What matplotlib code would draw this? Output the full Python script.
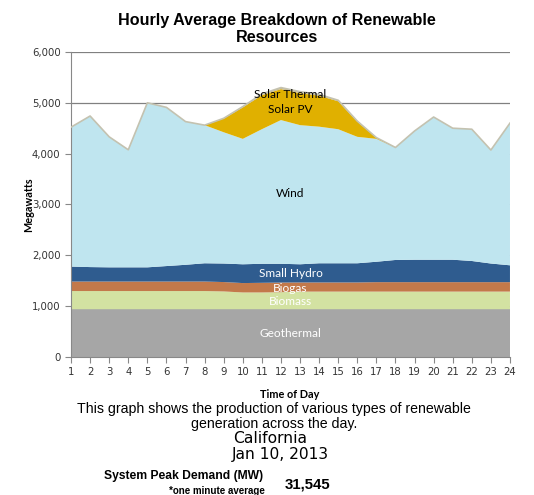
import matplotlib
matplotlib.use("Agg")
import matplotlib.pyplot as plt

# Hourly MW by resource
HOURS = list(range(1, 25))
GEOTHERMAL = [935] * 24
BIOMASS = [358, 358, 358, 358, 358, 358, 358, 358, 350, 330, 330, 335,
           347, 347, 347, 347, 347, 347, 347, 347, 347, 347, 347, 347]
BIOGAS = [187, 187, 187, 187, 187, 187, 187, 187, 185, 185, 190, 190,
          180, 180, 180, 180, 186, 186, 186, 186, 186, 186, 186, 186]
SMALL_HYDRO = [295, 285, 280, 280, 280, 305, 330, 360, 365, 370, 375, 370,
               358, 378, 378, 378, 402, 437, 442, 442, 442, 417, 367, 332]
WIND = [2745, 2975, 2570, 2315, 3240, 3125, 2820, 2720, 2585, 2470, 2650, 2830,
        2740, 2690, 2640, 2490, 2420, 2215, 2535, 2810, 2590, 2595, 2235, 2800]
SOLAR_PV = [0, 0, 0, 0, 0, 0, 0, 0, 270, 620, 670, 610,
            630, 610, 550, 300, 25, 0, 0, 0, 0, 0, 0, 0]
SOLAR_THERMAL = [0, 0, 0, 0, 0, 0, 0, 0, 5, 15, 25, 30,
                 30, 25, 20, 10, 0, 0, 0, 0, 0, 0, 0, 0]

SERIES = ["Geothermal", "Biomass", "Biogas", "Small Hydro", "Wind", "Solar PV", "Solar Thermal"]
COLORS = ["#a6a6a6", "#d3e2a2", "#c3794a", "#2f5c8f", "#bfe5ef", "#e0b000", "#c8b98a"]

# label placement (hour, MW) and text colour
LABELS = {
    "Geothermal":    (12.5, 465, "white"),
    "Biomass":       (12.5, 1092, "white"),
    "Biogas":        (12.5, 1347, "white"),
    "Small Hydro":   (12.5, 1641, "white"),
    "Wind":          (12.5, 3206, "black"),
    "Solar PV":      (12.5, 4876, "black"),
    "Solar Thermal": (12.5, 5170, "black"),
}

fig = plt.figure(figsize=(5.34, 4.95), dpi=100)
ax = fig.add_axes([0.133, 0.2794, 0.822, 0.6155])

stack = [GEOTHERMAL, BIOMASS, BIOGAS, SMALL_HYDRO, WIND, SOLAR_PV, SOLAR_THERMAL]
ax.stackplot(HOURS, *stack, colors=COLORS, linewidth=0, zorder=2)
total = [sum(v) for v in zip(*stack)]
ax.plot(HOURS, total, color="#c4c2b0", lw=1.2, zorder=3)

for name, (x, y, c) in LABELS.items():
    ax.text(x, y, name, ha="center", va="center", color=c, fontsize=8.6,
            family="Lato", zorder=4)

ax.set_xlim(1, 24)
ax.set_ylim(0, 6000)
ax.set_xticks(HOURS)
ax.set_yticks(range(0, 6001, 1000))
ax.set_yticklabels([f"{v:,}" for v in range(0, 6001, 1000)])
ax.tick_params(labelsize=7.3, colors="#333333", length=4, width=0.8)
ax.tick_params(axis="both", color="#888888")
ax.grid(axis="y", color="#808080", lw=0.9, zorder=1)
ax.set_axisbelow(True)
for s in ["top", "right"]:
    ax.spines[s].set_visible(False)
for s in ["left", "bottom"]:
    ax.spines[s].set_color("#888888")
ax.set_ylabel("Megawatts", fontsize=7.8, fontweight="bold", family="Lato")
ax.yaxis.set_label_coords(-0.083, 0.5)

fig.text(0.518, 0.941, "Hourly Average Breakdown of Renewable\nResources",
         ha="center", va="center", fontsize=11.6, fontweight="bold",
         family="Liberation Sans", linespacing=1.15)
fig.text(0.543, 0.204, "Time of Day", ha="center", va="center", fontsize=7.8,
         fontweight="bold", family="Lato")
fig.text(0.513, 0.159, "This graph shows the production of various types of renewable\ngeneration across the day.",
         ha="center", va="center", fontsize=10.2, family="Liberation Sans", linespacing=1.05)
fig.text(0.505, 0.115, "California", ha="center", va="center", fontsize=11.2, family="DejaVu Sans")
fig.text(0.525, 0.082, "Jan 10, 2013", ha="center", va="center", fontsize=11.2, family="DejaVu Sans")
fig.text(0.343, 0.038, "System Peak Demand (MW)", ha="center", va="center", fontsize=8.7,
         fontweight="bold", family="Liberation Sans")
fig.text(0.406, 0.008, "*one minute average", ha="center", va="center", fontsize=7,
         fontweight="bold", family="Liberation Sans")
fig.text(0.575, 0.022, "31,545", ha="center", va="center", fontsize=10.8,
         fontweight="bold", family="Liberation Sans")

fig.savefig("out.png", dpi=100)
